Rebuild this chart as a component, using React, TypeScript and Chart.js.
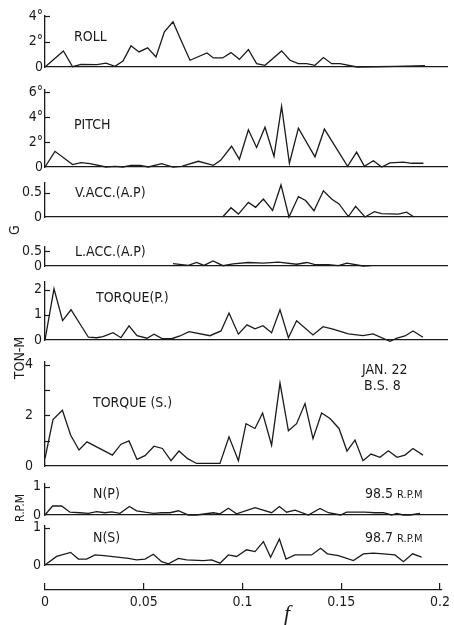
import React, { useEffect, useRef } from 'react';
import { Chart, registerables } from 'chart.js';

Chart.register(...registerables);

const W = 454;
const H = 625;
const SANS = '"DejaVu Sans Condensed", "Liberation Sans Narrow", "DejaVu Sans", sans-serif';
const INK = '#1b1b1b';

// ---- shared frequency axis ----
const xTickValues = [0, 0.05, 0.1, 0.15, 0.2];
const xTickLabels = ['0', '0.05', '0.1', '0.15', '0.2'];

// ---- ROLL (deg) ----
const rollFreq = [0, 0.0092, 0.0138, 0.018, 0.026, 0.0305, 0.035, 0.039, 0.043, 0.047, 0.0513, 0.0555, 0.0597, 0.064, 0.068, 0.0725, 0.081, 0.0842, 0.0888, 0.093, 0.0972, 0.1017, 0.1058, 0.11, 0.1183, 0.1225, 0.1267, 0.1308, 0.135, 0.1392, 0.1433, 0.1475, 0.156, 0.165, 0.175, 0.19];
const rollAmp = [0, 1.26, 0.02, 0.2, 0.18, 0.3, 0.05, 0.47, 1.66, 1.18, 1.5, 0.79, 2.76, 3.55, 2.1, 0.53, 1.1, 0.71, 0.71, 1.13, 0.6, 1.37, 0.26, 0.13, 1.26, 0.53, 0.26, 0.26, 0.13, 0.74, 0.26, 0.26, 0, 0.02, 0.05, 0.1];
const rollTicks = [0, 2, 4];
const rollTickLabels = ['0', '2°', '4°'];

// ---- PITCH (deg) ----
const pitchFreq = [0, 0.005, 0.0138, 0.018, 0.0225, 0.0305, 0.035, 0.039, 0.043, 0.0475, 0.0517, 0.0583, 0.064, 0.0683, 0.0767, 0.0842, 0.0878, 0.0933, 0.0972, 0.1017, 0.1058, 0.11, 0.1145, 0.1183, 0.1222, 0.1267, 0.135, 0.1397, 0.1513, 0.1558, 0.1597, 0.1642, 0.1683, 0.1725, 0.1792, 0.1833, 0.1892];
const pitchAmp = [0, 1.26, 0.19, 0.35, 0.27, 0, 0.05, 0, 0.13, 0.13, 0, 0.27, 0, 0.05, 0.46, 0.13, 0.54, 1.67, 0.62, 3.0, 1.57, 3.2, 0.85, 4.88, 0.3, 3.13, 0.82, 3.05, 0.05, 1.2, 0.06, 0.5, 0, 0.33, 0.4, 0.3, 0.3];
const pitchTicks = [0, 2, 4, 6];
const pitchTickLabels = ['0', '2°', '4°', '6°'];

// ---- V.ACC.(A.P) (G) ----
const vaccFreq = [0.0888, 0.093, 0.0967, 0.1017, 0.1053, 0.1092, 0.1138, 0.118, 0.122, 0.1267, 0.1303, 0.1345, 0.1392, 0.1433, 0.147, 0.1517, 0.1553, 0.16, 0.1647, 0.1683, 0.1767, 0.1808, 0.1845];
const vaccAmp = [0, 0.19, 0.06, 0.3, 0.2, 0.37, 0.135, 0.66, 0, 0.42, 0.34, 0.13, 0.54, 0.37, 0.27, 0.01, 0.22, 0, 0.11, 0.07, 0.06, 0.1, 0];
const vaccTicks = [0, 0.5];
const vaccTickLabels = ['0', '0.5'];

// ---- L.ACC.(A.P) (G) ----
const laccFreq = [0.064, 0.0717, 0.0758, 0.0795, 0.084, 0.089, 0.094, 0.1017, 0.109, 0.1167, 0.1258, 0.131, 0.135, 0.1417, 0.1467, 0.151, 0.159, 0.163];
const laccAmp = [0.08, 0.02, 0.12, 0.02, 0.17, 0.01, 0.07, 0.12, 0.1, 0.13, 0.06, 0.12, 0.05, 0.05, 0.01, 0.1, 0, 0.01];
const laccTicks = [0, 0.5];
const laccTickLabels = ['0', '0.5'];

// ---- TORQUE(P.) (TON-M) ----
const torquePFreq = [0, 0.0045, 0.0088, 0.013, 0.0217, 0.0258, 0.029, 0.034, 0.038, 0.042, 0.046, 0.051, 0.0545, 0.0588, 0.0633, 0.0675, 0.072, 0.0825, 0.088, 0.092, 0.0967, 0.101, 0.105, 0.109, 0.1133, 0.1175, 0.1217, 0.1258, 0.134, 0.139, 0.144, 0.1517, 0.159, 0.164, 0.1725, 0.176, 0.18, 0.184, 0.189];
const torquePAmp = [0, 2.03, 0.77, 1.2, 0.11, 0.09, 0.13, 0.29, 0.09, 0.56, 0.17, 0.07, 0.23, 0.05, 0.05, 0.16, 0.33, 0.17, 0.36, 1.07, 0.23, 0.6, 0.44, 0.57, 0.29, 1.2, 0.09, 0.76, 0.2, 0.53, 0.43, 0.24, 0.17, 0.24, -0.05, 0.07, 0.16, 0.36, 0.11];
const torquePTicks = [0, 1, 2];
const torquePTickLabels = ['0', '1', '2'];

// ---- TORQUE (S.) (TON-M) ----
const torqueSFreq = [0, 0.004, 0.0087, 0.0128, 0.017, 0.021, 0.0337, 0.038, 0.042, 0.046, 0.05, 0.0545, 0.0587, 0.063, 0.067, 0.0713, 0.0758, 0.0875, 0.092, 0.0967, 0.1005, 0.105, 0.1088, 0.1133, 0.1175, 0.1217, 0.1258, 0.13, 0.134, 0.1383, 0.1425, 0.147, 0.151, 0.155, 0.159, 0.163, 0.1675, 0.1717, 0.176, 0.18, 0.184, 0.189];
const torqueSAmp = [0.3, 1.83, 2.2, 1.22, 0.63, 0.95, 0.43, 0.86, 0.99, 0.26, 0.41, 0.78, 0.69, 0.21, 0.59, 0.29, 0.1, 0.1, 1.15, 0.21, 1.67, 1.48, 2.09, 0.82, 3.27, 1.39, 1.67, 2.46, 1.08, 2.09, 1.87, 1.48, 0.59, 1.02, 0.21, 0.47, 0.34, 0.6, 0.34, 0.43, 0.69, 0.43];
const torqueSTicks = [0, 1, 2, 3, 4];
const torqueSTickLabels = ['0', '', '2', '', '4'];

// ---- N(P) (R.P.M) ----
const npFreq = [0, 0.0038, 0.0083, 0.0125, 0.0175, 0.0217, 0.0258, 0.03, 0.0333, 0.0375, 0.0422, 0.0458, 0.05, 0.0542, 0.0583, 0.0625, 0.0667, 0.0717, 0.0758, 0.0842, 0.0875, 0.0917, 0.0958, 0.1017, 0.105, 0.1133, 0.1172, 0.1208, 0.125, 0.1317, 0.1375, 0.1417, 0.1478, 0.1508, 0.16, 0.165, 0.1692, 0.1733, 0.1758, 0.1792, 0.1825, 0.1875];
const npAmp = [0, 0.32, 0.32, 0.1, 0.08, 0.06, 0.12, 0.08, 0.11, 0.06, 0.3, 0.15, 0.1, 0.06, 0.08, 0.08, 0.15, 0, 0, 0.08, 0.04, 0.24, 0.04, 0.18, 0.26, 0.08, 0.3, 0.1, 0.17, 0, 0.23, 0.08, 0, 0.1, 0.1, 0.08, 0.08, 0, 0.06, 0, 0, 0.06];
const npTicks = [0, 1];
const npTickLabels = ['0', '1'];

// ---- N(S) (R.P.M) ----
const nsFreq = [0, 0.0058, 0.0128, 0.0167, 0.0208, 0.025, 0.0295, 0.0417, 0.0458, 0.05, 0.0542, 0.0583, 0.0617, 0.0667, 0.0708, 0.0792, 0.0833, 0.0875, 0.0917, 0.0958, 0.1008, 0.105, 0.1092, 0.1128, 0.1172, 0.1205, 0.125, 0.1333, 0.1378, 0.1412, 0.1467, 0.1542, 0.1592, 0.1642, 0.1692, 0.175, 0.1792, 0.1838, 0.1883];
const nsAmp = [0, 0.23, 0.34, 0.16, 0.16, 0.27, 0.25, 0.18, 0.14, 0.16, 0.29, 0.09, 0.03, 0.18, 0.14, 0.12, 0.14, 0.05, 0.27, 0.23, 0.41, 0.36, 0.63, 0.21, 0.7, 0.16, 0.27, 0.27, 0.45, 0.3, 0.25, 0.12, 0.3, 0.32, 0.3, 0.27, 0.09, 0.3, 0.21];
const nsTicks = [0, 1];
const nsTickLabels = ['0', '1'];

type Txt = {
  text: string;
  x: number;
  y: number;
  size?: number;
  rotate?: boolean;
  family?: string;
  italic?: boolean;
  align?: CanvasTextAlign;
};

type Panel = {
  freq: number[];
  amp: number[];
  ticks: number[];
  tickLabels: string[];
  max: number;
  top: number;
  zero: number;
  labelPad: number;
  texts: Txt[];
};

const PLOT_LEFT = 45;
const PLOT_RIGHT = 447;
const X_MAX = 0.201;

const panels: Panel[] = [
  {
    freq: rollFreq, amp: rollAmp, ticks: rollTicks, tickLabels: rollTickLabels,
    max: 4, top: 16, zero: 67, labelPad: 2,
    texts: [{ text: 'ROLL', x: 74, y: 37 }],
  },
  {
    freq: pitchFreq, amp: pitchAmp, ticks: pitchTicks, tickLabels: pitchTickLabels,
    max: 6.2, top: 90, zero: 167, labelPad: 2,
    texts: [{ text: 'PITCH', x: 74, y: 125 }],
  },
  {
    freq: vaccFreq, amp: vaccAmp, ticks: vaccTicks, tickLabels: vaccTickLabels,
    max: 0.7, top: 183, zero: 217, labelPad: 3,
    texts: [
      { text: 'V.ACC.(A.P)', x: 75, y: 193 },
      { text: 'G', x: 15, y: 230, rotate: true },
    ],
  },
  {
    freq: laccFreq, amp: laccAmp, ticks: laccTicks, tickLabels: laccTickLabels,
    max: 0.65, top: 247, zero: 266, labelPad: 3,
    texts: [{ text: 'L.ACC.(A.P)', x: 75, y: 252 }],
  },
  {
    freq: torquePFreq, amp: torquePAmp, ticks: torquePTicks, tickLabels: torquePTickLabels,
    max: 2.3, top: 282, zero: 340, labelPad: 3,
    texts: [
      { text: 'TORQUE(P.)', x: 96, y: 298 },
      { text: 'TON-M', x: 20, y: 358, rotate: true },
    ],
  },
  {
    freq: torqueSFreq, amp: torqueSAmp, ticks: torqueSTicks, tickLabels: torqueSTickLabels,
    max: 4.1, top: 362, zero: 466, labelPad: 12,
    texts: [
      { text: 'TORQUE (S.)', x: 93, y: 403 },
      { text: 'JAN. 22', x: 362, y: 370 },
      { text: 'B.S. 8', x: 364, y: 386 },
    ],
  },
  {
    freq: npFreq, amp: npAmp, ticks: npTicks, tickLabels: npTickLabels,
    max: 1.1, top: 484, zero: 515, labelPad: 4,
    texts: [
      { text: 'N(P)', x: 93, y: 494 },
      { text: '98.5', x: 365, y: 494 },
      { text: 'R.P.M', x: 397, y: 495, size: 11 },
      { text: 'R.P.M', x: 21, y: 508, size: 12, rotate: true },
    ],
  },
  {
    freq: nsFreq, amp: nsAmp, ticks: nsTicks, tickLabels: nsTickLabels,
    max: 1.05, top: 526, zero: 565, labelPad: 4,
    texts: [
      { text: 'N(S)', x: 93, y: 538 },
      { text: '98.7', x: 365, y: 538 },
      { text: 'R.P.M', x: 397, y: 539, size: 11 },
    ],
  },
];

const textPlugin = {
  id: 'pageTexts',
  afterDraw(chart: any, _args: any, opts: any) {
    const items: Txt[] = (opts && opts.items) || [];
    const ctx = chart.ctx as CanvasRenderingContext2D;
    ctx.save();
    ctx.fillStyle = INK;
    ctx.textBaseline = 'middle';
    items.forEach((it) => {
      ctx.font = `${it.italic ? 'italic ' : ''}${it.size || 14}px ${it.family || SANS}`;
      if (it.rotate) {
        ctx.save();
        ctx.translate(it.x, it.y);
        ctx.rotate(-Math.PI / 2);
        ctx.textAlign = 'center';
        ctx.fillText(it.text, 0, 0);
        ctx.restore();
      } else {
        ctx.textAlign = it.align || 'left';
        ctx.fillText(it.text, it.x, it.y);
      }
    });
    ctx.restore();
  },
};

const innerTicksPlugin = {
  id: 'innerTicks',
  afterDraw(chart: any, _args: any, opts: any) {
    const vals: number[] = (opts && opts.values) || [];
    const ys = chart.scales.y;
    if (!ys) return;
    const left = chart.chartArea.left;
    const ctx = chart.ctx as CanvasRenderingContext2D;
    ctx.save();
    ctx.strokeStyle = INK;
    ctx.lineWidth = 1.2;
    vals.forEach((v) => {
      if (v === 0) return;
      const py = Math.round(ys.getPixelForValue(v)) + 0.5;
      ctx.beginPath();
      ctx.moveTo(left, py);
      ctx.lineTo(left + 5, py);
      ctx.stroke();
    });
    ctx.restore();
  },
};

function makePanelChart(canvas: HTMLCanvasElement, p: Panel) {
  return new Chart(canvas, {
    type: 'line',
    data: {
      datasets: [
        {
          data: p.freq.map((f, i) => ({ x: f, y: p.amp[i] })),
          borderColor: INK,
          borderWidth: 1.3,
          pointRadius: 0,
          tension: 0,
          fill: false,
          clip: false as any,
        },
      ],
    },
    options: {
      responsive: false,
      animation: false,
      events: [],
      layout: {
        autoPadding: false,
        padding: { left: 0, right: W - PLOT_RIGHT, top: p.top, bottom: H - p.zero },
      },
      plugins: {
        legend: { display: false },
        tooltip: { enabled: false },
        pageTexts: { items: p.texts },
        innerTicks: { values: p.ticks },
      } as any,
      scales: {
        x: {
          type: 'linear',
          min: 0,
          max: X_MAX,
          ticks: { display: false },
          grid: { display: false, drawTicks: false },
          border: { display: true, color: INK, width: 1.3 },
          afterFit: (s: any) => { s.height = 0; },
        },
        y: {
          type: 'linear',
          min: 0,
          max: p.max,
          afterBuildTicks: (s: any) => { s.ticks = p.ticks.map((v) => ({ value: v })); },
          ticks: {
            callback: (_v: any, i: number) => p.tickLabels[i],
            padding: p.labelPad,
            color: INK,
            font: { family: SANS, size: 14 },
            autoSkip: false,
          },
          grid: { display: false, drawTicks: false },
          border: { display: true, color: INK, width: 1.3 },
          afterFit: (s: any) => { s.width = PLOT_LEFT; },
        },
      },
    },
    plugins: [textPlugin, innerTicksPlugin],
  } as any);
}

function makeAxisChart(canvas: HTMLCanvasElement) {
  return new Chart(canvas, {
    type: 'line',
    data: { datasets: [] },
    options: {
      responsive: false,
      animation: false,
      events: [],
      layout: {
        autoPadding: false,
        padding: { left: PLOT_LEFT, right: W - PLOT_RIGHT, top: 583, bottom: 5 },
      },
      plugins: {
        legend: { display: false },
        tooltip: { enabled: false },
        pageTexts: {
          items: [
            { text: 'f', x: 287, y: 614, size: 22, italic: true, family: '"Liberation Serif", "DejaVu Serif", serif', align: 'center' },
          ],
        },
      } as any,
      scales: {
        x: {
          type: 'linear',
          position: 'bottom',
          min: 0,
          max: X_MAX,
          afterBuildTicks: (s: any) => { s.ticks = xTickValues.map((v) => ({ value: v })); },
          ticks: {
            callback: (_v: any, i: number) => xTickLabels[i],
            padding: 4,
            color: INK,
            font: { family: SANS, size: 14 },
            maxRotation: 0,
            autoSkip: false,
          },
          grid: { display: true, drawOnChartArea: true, drawTicks: false, color: INK, lineWidth: 1.2 },
          border: { display: true, color: INK, width: 1.3 },
          afterFit: (s: any) => { s.height = 30; },
        },
        y: { display: false, min: 0, max: 1 },
      },
    },
    plugins: [textPlugin],
  } as any);
}

export default function App() {
  const panelRefs = useRef<(HTMLCanvasElement | null)[]>([]);
  const axisRef = useRef<HTMLCanvasElement | null>(null);

  useEffect(() => {
    const charts: Chart[] = [];
    panels.forEach((p, i) => {
      const c = panelRefs.current[i];
      if (c) charts.push(makePanelChart(c, p));
    });
    if (axisRef.current) charts.push(makeAxisChart(axisRef.current));
    return () => {
      charts.forEach((c) => c.destroy());
    };
  }, []);

  const canvasStyle: React.CSSProperties = { position: 'absolute', left: 0, top: 0, width: W, height: H };

  return (
    <div style={{ position: 'absolute', left: 0, top: 0, width: W, height: H, background: '#ffffff', overflow: 'hidden' }}>
      {panels.map((_, i) => (
        <canvas
          key={i}
          width={W}
          height={H}
          style={canvasStyle}
          ref={(el) => { panelRefs.current[i] = el; }}
        />
      ))}
      <canvas ref={axisRef} width={W} height={H} style={canvasStyle} />
    </div>
  );
}
